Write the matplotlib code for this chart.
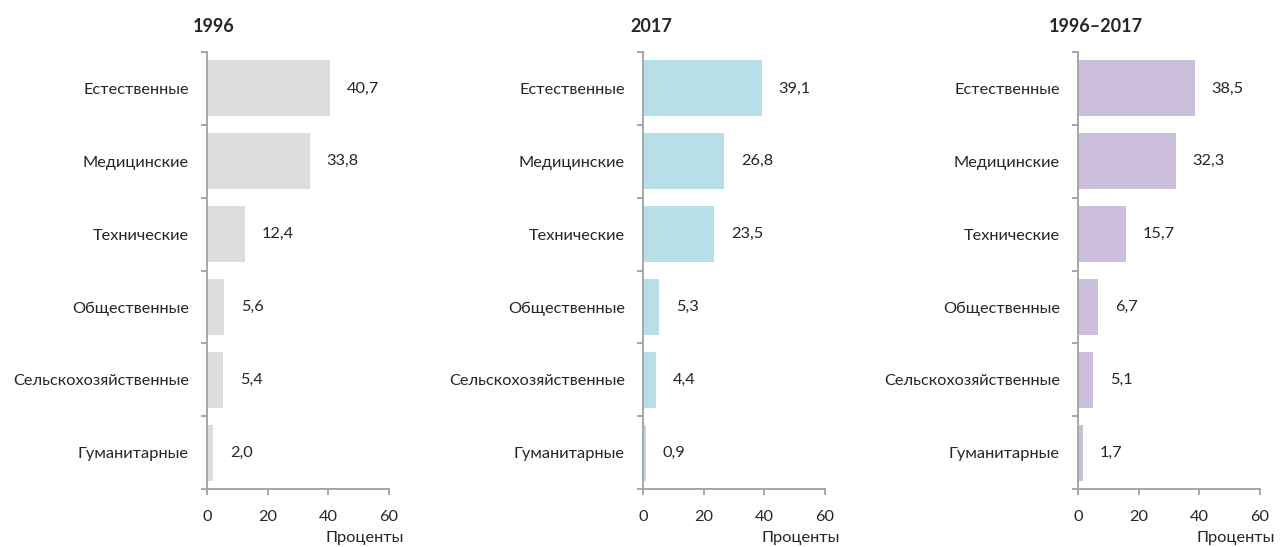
import matplotlib
matplotlib.use("Agg")
import matplotlib.pyplot as plt

plt.rcParams['font.family'] = ['Lato', 'DejaVu Sans']

categories = ["Естественные", "Медицинские", "Технические",
              "Общественные", "Сельскохозяйственные", "Гуманитарные"]
panel_titles = ["1996", "2017", "1996–2017"]
values_1996 = [40.7, 33.8, 12.4, 5.6, 5.4, 2.0]
values_2017 = [39.1, 26.8, 23.5, 5.3, 4.4, 0.9]
values_total = [38.5, 32.3, 15.7, 6.7, 5.1, 1.7]
bar_colors = ["#DCDDDE", "#B7DFE8", "#CBBFDC"]
x_ticks = [0, 20, 40, 60]
x_label = "Проценты"

W, H = 1282, 547
fig = plt.figure(figsize=(W / 100, H / 100), dpi=100)

axes_left_px = [207, 643, 1078]
axes_width_px = 182
top_px, bottom_px = 52, 489
title_center_px = [214, 651, 1096]

spine_color = "#A6A6A6"
text_color = "#262626"
fs = 11.8

series = [values_1996, values_2017, values_total]
n = len(categories)
ypos = list(range(n))

for i, vals in enumerate(series):
    ax = fig.add_axes([axes_left_px[i] / W, 1 - bottom_px / H,
                       axes_width_px / W, (bottom_px - top_px) / H])
    ax.barh(ypos, vals, height=0.77, color=bar_colors[i], edgecolor="none")
    ax.set_xlim(0, 60)
    ax.set_ylim(n - 0.5, -0.5)

    for s in ("top", "right"):
        ax.spines[s].set_visible(False)
    for s in ("left", "bottom"):
        ax.spines[s].set_color(spine_color)
        ax.spines[s].set_linewidth(1.4)

    ax.set_yticks(ypos)
    ax.set_yticklabels(categories, fontsize=fs, color=text_color)
    ax.set_yticks([k - 0.5 for k in range(n + 1)], minor=True)
    ax.tick_params(axis="y", which="major", length=0, pad=13)
    ax.tick_params(axis="y", which="minor", length=4, width=1.4, color=spine_color)
    ax.set_xticks(x_ticks)
    ax.set_xticklabels([str(t) for t in x_ticks], fontsize=fs, color=text_color)
    ax.tick_params(axis="x", length=4, width=1.4, color=spine_color, pad=11)

    for y, v in zip(ypos, vals):
        ax.annotate(f"{v:.1f}".replace(".", ","), xy=(v, y), xytext=(12, 0),
                    textcoords="offset points", ha="left", va="center",
                    fontsize=fs, color=text_color)

    ax.text(1 + 15 / axes_width_px, -(538 - bottom_px) / (bottom_px - top_px),
            x_label, transform=ax.transAxes, ha="right", va="center",
            fontsize=fs, color=text_color)

    fig.text(title_center_px[i] / W, 1 - 27 / H, panel_titles[i],
             ha="center", va="center", fontsize=13, fontweight="bold",
             color=text_color)

fig.savefig("out.png", dpi=100)
